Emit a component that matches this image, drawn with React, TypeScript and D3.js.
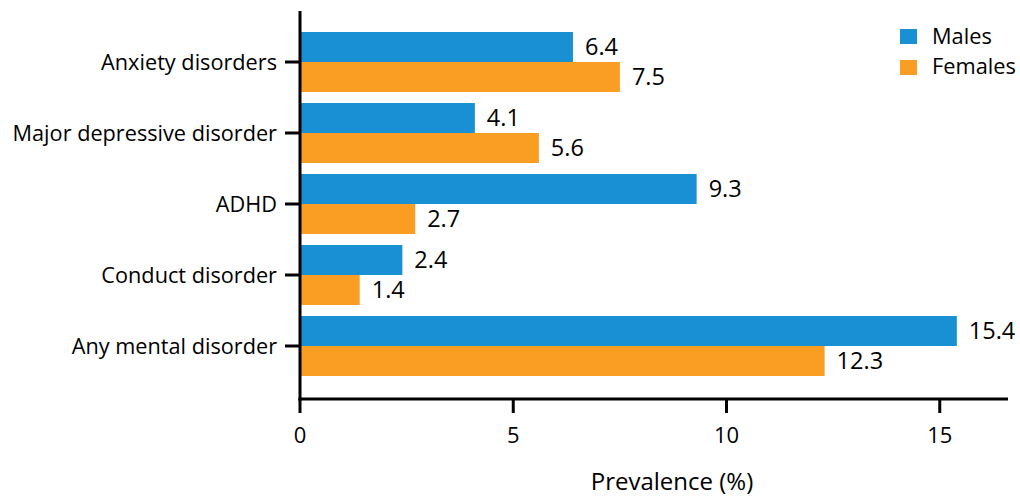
import React from "react";
import * as d3 from "d3";

const categories = ["Anxiety disorders", "Major depressive disorder", "ADHD", "Conduct disorder", "Any mental disorder"];
const males = [6.4, 4.1, 9.3, 2.4, 15.4];
const females = [7.5, 5.6, 2.7, 1.4, 12.3];
const seriesNames = ["Males", "Females"];
const xTicks = [0, 5, 10, 15];
const colors = ["#1a90d4", "#f99d23"];

const W = 1020, H = 497;
const FONT = "'Open Sans', sans-serif";

export default function App() {
  const x = d3.scaleLinear().domain([0, 16.6]).range([300, 1008]);
  const y = d3.scaleBand<string>().domain(categories).range([26.5, 381.5]).paddingInner(11 / 71).paddingOuter(5.5 / 71);
  const bw = y.bandwidth() / 2;
  const axisY = 399;
  const series = [males, females];
  return (
    <svg width={W} height={H} style={{ position: "absolute", left: 0, top: 0 }} fontFamily={FONT}>
      {categories.map((c, i) =>
        series.map((s, j) => (
          <g key={c + j}>
            <rect x={x(0)} y={(y(c) as number) + j * bw} width={x(s[i]) - x(0)} height={bw} fill={colors[j]} />
            <text x={x(s[i]) + 12} y={(y(c) as number) + j * bw + bw / 2} dy="0.35em" fontSize={23.5} fill="#000">
              {s[i].toFixed(1)}
            </text>
          </g>
        ))
      )}
      {/* y axis */}
      <line x1={x(0)} x2={x(0)} y1={11} y2={axisY + 1.5} stroke="#000" strokeWidth={3} />
      {categories.map((c) => {
        const cy = (y(c) as number) + y.bandwidth() / 2;
        return (
          <g key={c}>
            <line x1={285} x2={x(0)} y1={cy} y2={cy} stroke="#000" strokeWidth={3} />
            <text x={277} y={cy} dy="0.35em" textAnchor="end" fontSize={21.7}>{c}</text>
          </g>
        );
      })}
      {/* x axis */}
      <line x1={x(0) - 1.5} x2={1008} y1={axisY} y2={axisY} stroke="#000" strokeWidth={3} />
      {xTicks.map((t) => (
        <g key={t}>
          <line x1={x(t)} x2={x(t)} y1={axisY} y2={413} stroke="#000" strokeWidth={3} />
          <text x={x(t)} y={435} dy="0.35em" textAnchor="middle" fontSize={22}>{t}</text>
        </g>
      ))}
      <text x={672} y={482} dy="0.35em" textAnchor="middle" fontSize={24}>Prevalence (%)</text>
      {/* legend */}
      {seriesNames.map((n, j) => (
        <g key={n}>
          <rect x={900} y={29 + j * 31} width={17} height={15} fill={colors[j]} />
          <text x={932} y={36 + j * 30} dy="0.35em" fontSize={21.8}>{n}</text>
        </g>
      ))}
    </svg>
  );
}
